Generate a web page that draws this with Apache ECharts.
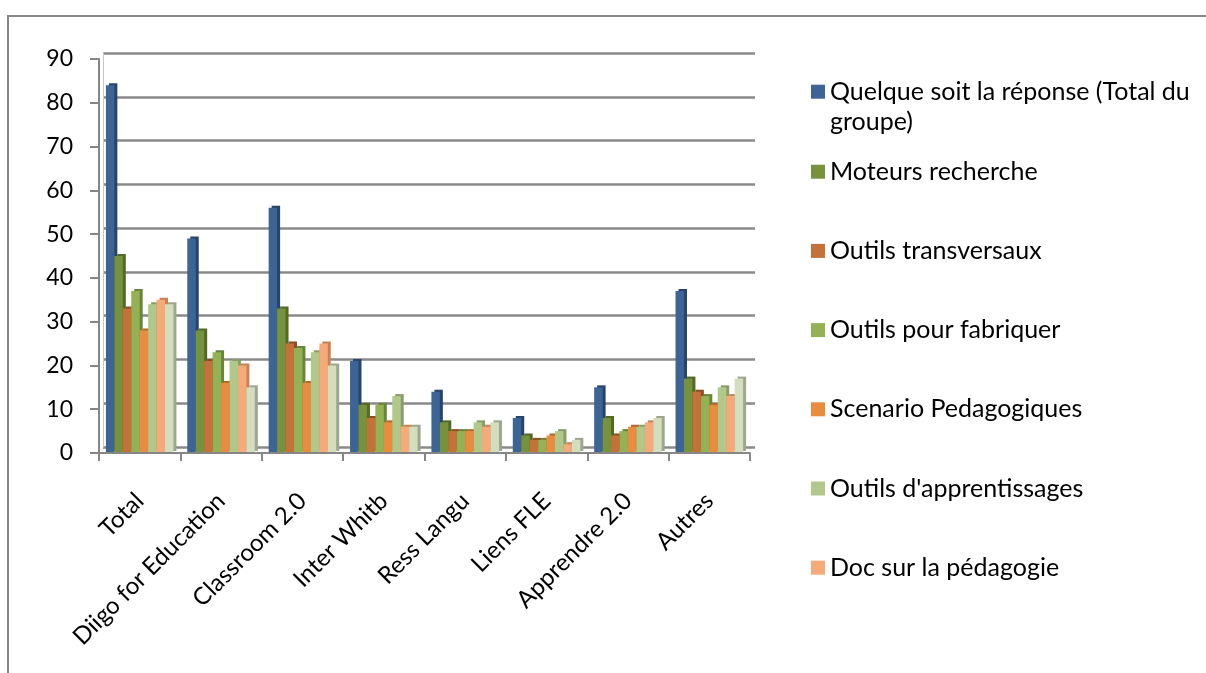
<!DOCTYPE html>
<html>
<head>
<meta charset="utf-8">
<script src="https://cdn.jsdelivr.net/npm/echarts@6/dist/echarts.min.js"></script>
<style>
html,body{margin:0;padding:0;background:#fff;}
#chart{width:1206px;height:673px;}
</style>
</head>
<body>
<div id="chart"></div>
<script>
const categories = ['Total', 'Diigo for Education', 'Classroom 2.0', 'Inter Whitb', 'Ress Langu', 'Liens FLE', 'Apprendre 2.0', 'Autres'];
const yTicks = [0, 10, 20, 30, 40, 50, 60, 70, 80, 90];

const seriesNames = [
  'Quelque soit la réponse (Total du groupe)',
  'Moteurs recherche',
  'Outils transversaux',
  'Outils pour fabriquer',
  'Scenario Pedagogiques',
  "Outils d'apprentissages",
  'Doc sur la pédagogie',
  'Série 8'
];

const totalGroupe        = [84, 49, 56, 21, 14, 8, 15, 37];
const moteursRecherche   = [45, 28, 33, 11, 7, 4, 8, 17];
const outilsTransversaux = [33, 21, 25, 8, 5, 3, 4, 14];
const outilsFabriquer    = [37, 23, 24, 11, 5, 3, 5, 13];
const scenarioPedago     = [28, 16, 16, 7, 5, 4, 6, 11];
const outilsApprent      = [34, 21, 23, 13, 7, 5, 6, 15];
const docPedagogie       = [35, 20, 25, 6, 6, 2, 7, 13];
const serie8             = [34, 15, 20, 6, 7, 3, 8, 17];

const seriesValues = [totalGroupe, moteursRecherche, outilsTransversaux, outilsFabriquer,
  scenarioPedago, outilsApprent, docPedagogie, serie8];

const colors = ['#3C6495', '#76923C', '#C4713A', '#93B155', '#E98C3F', '#B0C98B', '#F6AA7A', '#D2DEBD'];
const sideColors = ['#27446A', '#526A26', '#8E4D22', '#6A8538', '#B5662A', '#879F66', '#C98157', '#9DA68F'];

const FONT = 'Lato';
const chart = echarts.init(document.getElementById('chart'), null, {renderer: 'canvas'});

const series = seriesValues.map((vals, i) => ({
  name: seriesNames[i],
  type: 'bar',
  xAxisIndex: 0,
  yAxisIndex: 0,
  data: vals,
  barGap: '0%',
  barCategoryGap: '17%',
  itemStyle: {
    color: colors[i],
    shadowColor: sideColors[i],
    shadowBlur: 0,
    shadowOffsetX: 3,
    shadowOffsetY: -2
  },
  emphasis: {disabled: true},
  z: 3
}));

chart.setOption({
  animation: false,
  backgroundColor: '#ffffff',
  textStyle: {fontFamily: FONT},
  graphic: [{
    type: 'polyline',
    shape: {points: [[8, 700], [8, 16], [1220, 16]]},
    style: {fill: 'none', stroke: '#868686', lineWidth: 2},
    silent: true,
    z: -10
  }],
  grid: [
    {left: 99, right: 456, top: 59, bottom: 220, containLabel: false},
    {left: 103, right: 451, top: 53, bottom: 226, containLabel: false}
  ],
  legend: [
    {
      data: [seriesNames[0]],
      orient: 'vertical',
      left: 806,
      top: 41.7,
      icon: 'rect',
      itemWidth: 14,
      itemHeight: 14,
      selectedMode: false,
      formatter: function () { return '\u00a0\nQuelque soit la réponse (Total du\ngroupe)'; },
      textStyle: {fontFamily: FONT, fontSize: 25, color: '#000', lineHeight: 30}
    },
    {
      data: seriesNames.slice(1, 7),
      orient: 'vertical',
      left: 806,
      top: 153.7,
      icon: 'rect',
      itemWidth: 14,
      itemHeight: 14,
      itemGap: 53.2,
      selectedMode: false,
      textStyle: {fontFamily: FONT, fontSize: 25, color: '#000', lineHeight: 26}
    }
  ],
  xAxis: [
    {
      type: 'category',
      gridIndex: 0,
      data: categories,
      axisLine: {show: true, lineStyle: {color: '#868686', width: 2}},
      axisTick: {show: true, length: 8, lineStyle: {color: '#868686', width: 2}},
      axisLabel: {rotate: 45, margin: 44, fontFamily: FONT, fontSize: 24, color: '#000', interval: 0},
      splitLine: {show: false},
      z: 4
    },
    {
      type: 'category',
      gridIndex: 1,
      data: categories,
      axisLine: {show: false},
      axisTick: {show: false},
      axisLabel: {show: false},
      splitLine: {show: false}
    }
  ],
  yAxis: [
    {
      type: 'value',
      gridIndex: 0,
      min: yTicks[0],
      max: yTicks[yTicks.length - 1],
      interval: 10,
      axisLine: {show: true, lineStyle: {color: '#868686', width: 2}},
      axisTick: {show: true, length: 9, lineStyle: {color: '#868686', width: 2}},
      axisLabel: {margin: 26, fontFamily: FONT, fontSize: 23, color: '#000'},
      splitLine: {show: false},
      z: 4
    },
    {
      type: 'value',
      gridIndex: 1,
      min: yTicks[0],
      max: yTicks[yTicks.length - 1],
      interval: 10,
      axisLine: {show: true, lineStyle: {color: '#c8c8c8', width: 1}},
      axisTick: {show: false},
      axisLabel: {show: false},
      splitLine: {show: true, lineStyle: {color: '#8a8a8a', width: 2.5}},
      z: 0
    }
  ],
  series: series
});
</script>
</body>
</html>
